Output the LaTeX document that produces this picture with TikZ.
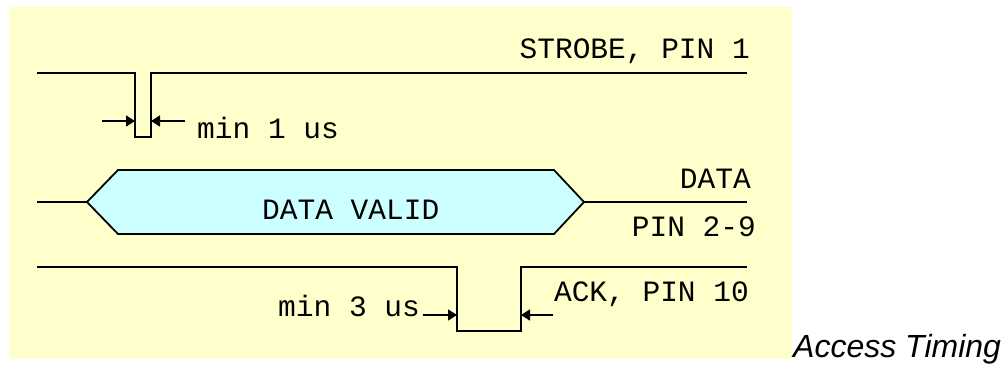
\documentclass[tikz,border=0pt]{standalone}
\usepackage{fontspec}
\setmainfont{Liberation Sans}
\setmonofont{Liberation Mono}
\usetikzlibrary{arrows.meta}
\definecolor{bgYellow}{HTML}{FFFFCC}
\definecolor{busCyan}{HTML}{CCFFFF}
\tikzset{
  sig/.style={line width=1.8pt, line join=miter},
  dim/.style={-{Triangle[length=9pt, width=11pt]}, line width=1.6pt},
  lbl/.style={font=\fontsize{29.5}{32}\selectfont\ttfamily, inner sep=0pt},
  caption/.style={font=\fontsize{32}{35}\selectfont\itshape, inner sep=0pt},
}

\begin{document}
\begin{tikzpicture}[x=1pt, y=-1pt]
  \useasboundingbox (0,0) rectangle (1005,365);
  \fill[bgYellow] (9,7) rectangle (792,359);
  % strobe, pin 1
  \coordinate (stbL) at (102,121);
  \coordinate (stbR) at (185,121);
  \draw[sig] (37,73) -- (135,73) -- (135,137) -- (151,137) -- (151,73) -- (747,73);
  \draw[dim] (stbL) -- (135,121);
  \draw[dim] (stbR) -- (151,121);
  \node[lbl, anchor=base west] (minOne) at (197,138) {min 1 us};
  \node[lbl, anchor=base east] (stbName) at (750,58) {STROBE, PIN 1};
  % data, pin 2-9
  \draw[sig] (37,202) -- (87,202);
  \filldraw[sig, fill=busCyan] (87,202) -- (118,170) -- (554,170) -- (584,202)
    -- (554,234) -- (118,234) -- cycle;
  \draw[sig] (584,202) -- (747,202);
  \node[lbl, anchor=base west] (valid) at (262,219) {DATA VALID};
  \node[lbl, anchor=base east] (dataName) at (751,188) {DATA};
  \node[lbl, anchor=base east] (dataPins) at (756,236) {PIN 2-9};
  % ack, pin 10
  \coordinate (ackL) at (423,315);
  \coordinate (ackR) at (553,315);
  \draw[sig] (37,267) -- (457,267) -- (457,331) -- (521,331) -- (521,267) -- (747,267);
  \draw[dim] (ackL) -- (457,315);
  \draw[dim] (ackR) -- (521,315);
  \node[lbl, anchor=base west] (minThree) at (278,316) {min 3 us};
  \node[lbl, anchor=base east] (ackName) at (749,301) {ACK, PIN 10};
  % caption
  \node[caption, anchor=base west] (title) at (793,357) {Access Timing};
\end{tikzpicture}
\end{document}
